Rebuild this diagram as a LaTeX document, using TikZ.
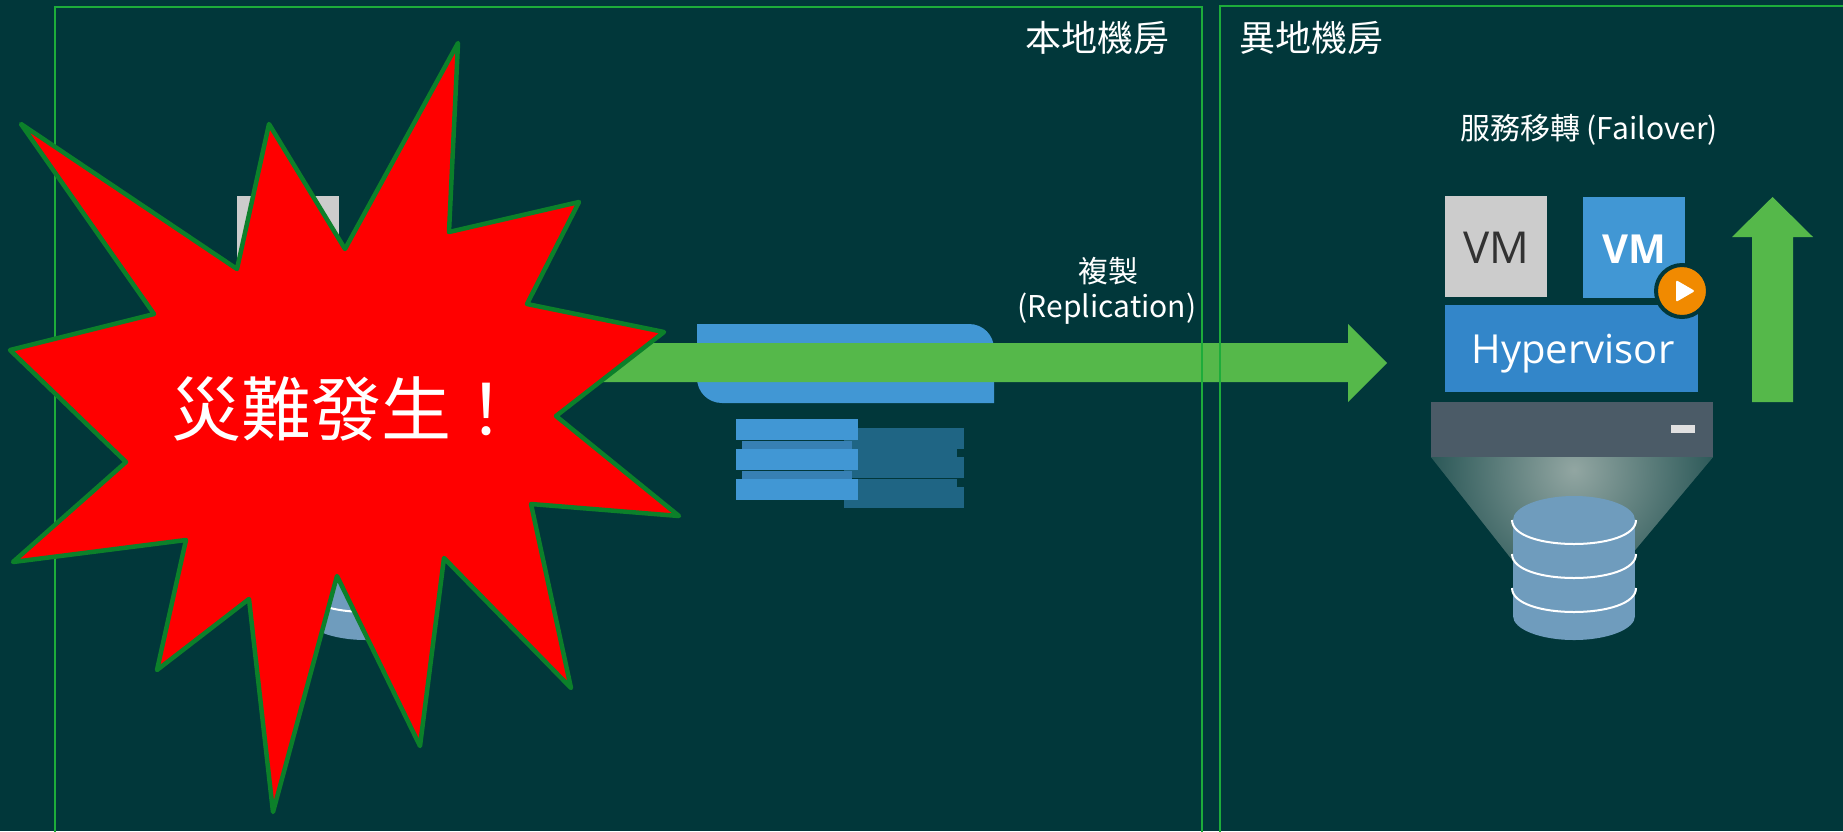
\documentclass[tikz,border=0pt]{standalone}
\usepackage{fontspec}
\newfontfamily\cjk{Noto Sans CJK TC}
\newfontfamily\segoe{Open Sans}
\usepackage{tikz}

\definecolor{bg}{RGB}{1,55,58}
\definecolor{framegreen}{RGB}{29,172,58}
\definecolor{arrowgreen}{RGB}{85,184,74}
\definecolor{staredge}{RGB}{12,128,42}
\definecolor{vmgrey}{RGB}{204,204,204}
\definecolor{vmtext}{RGB}{50,50,50}
\definecolor{vmblue}{RGB}{65,151,212}
\definecolor{hyperblue}{RGB}{51,134,201}
\definecolor{servergrey}{RGB}{75,91,103}
\definecolor{playorange}{RGB}{241,138,0}
\definecolor{dbblue}{RGB}{111,156,189}
\definecolor{stackdark}{RGB}{31,101,132}
\definecolor{conedark}{RGB}{38,84,84}
\definecolor{coneglow}{RGB}{146,166,162}

\tikzset{
	sitelabel/.style={text=white, inner sep=0pt, font=\cjk\fontsize{36}{40}\selectfont},
	smalllabel/.style={text=white, inner sep=0pt, font=\cjk\fontsize{30}{34}\selectfont},
}

% hypervisor, server, light cone and disk of one host
\newcommand{\hostbody}{
	\fill[hyperblue] (1445,305) rectangle (1698,392);
	\fill[servergrey] (1431,402) rectangle (1713,457);
	\fill[white!88!black] (1671,425) rectangle (1695,433);
	\fill[conedark] (1431,457) -- (1713,457) -- (1610,580) -- (1528,580) -- cycle;
	\begin{scope}
		\clip (1431,457) -- (1713,457) -- (1610,580) -- (1528,580) -- cycle;
		\shade[inner color=coneglow, outer color=conedark] (1574,470) circle (150);
	\end{scope}
	\fill[dbblue] (1513,520) rectangle (1635,616);
	\fill[dbblue] (1574,616) ellipse (61 and 24);
	\fill[dbblue] (1574,520) ellipse (61 and 24);
	\foreach \y in {520,554,588}
		\draw[white, line width=2pt] (1512,\y) .. controls (1512,\y+32) and (1636,\y+32) .. (1636,\y);
	\fill[vmgrey] (1445,196) rectangle (1547,297);
}

\begin{document}
\begin{tikzpicture}[x=1pt, y=-1pt]
	\fill[bg] (0,0) rectangle (1843,831);
	\useasboundingbox (0,0) rectangle (1843,831);
	\clip (0,0) rectangle (1843,831);
	%\draw [help lines, step=100] (0,0) grid (1843,831);

	% replication target in the middle
	\fill[vmblue] (697,324) -- (969,324) .. controls (983,324) and (994,335) .. (994,349) -- (994,403) -- (722,403) .. controls (708,403) and (697,392) .. (697,378) -- cycle;
	\foreach \y in {428,457,487}
		\fill[stackdark] (844,\y) rectangle (964,\y+21);
	\foreach \y in {449,479}
		\fill[stackdark] (844,\y) rectangle (957,\y+8);
	\foreach \y in {419,449,479}
		\fill[vmblue] (736,\y) rectangle (858,\y+21);
	\foreach \y in {441,471}
		\fill[vmblue!85!black] (742,\y) rectangle (852,\y+8);

	% local host, mostly behind the star
	\begin{scope}[xshift=-1208pt]
		\hostbody
	\end{scope}

	% remote host
	\hostbody
	\node[text=vmtext, inner sep=0pt, anchor=base, font=\segoe\fontsize{44}{48}\selectfont] (vmgrey) at (1496,263) {VM};
	\fill[vmblue] (1583,197) rectangle (1685,298);
	\node[text=white, inner sep=0pt, anchor=base, font=\segoe\bfseries\fontsize{40}{44}\selectfont] (vmblue) at (1634,263) {VM};
	\filldraw[fill=playorange, draw=bg, line width=4pt] (1682,291) circle (26);
	\fill[white, rounded corners=2pt] (1676,280) -- (1695,291) -- (1676,302) -- cycle;
	\node[text=white, inner sep=0pt, anchor=base, font=\segoe\fontsize{40}{44}\selectfont] (hyperlabel) at (1573,363) {Hypervisor};

	% arrows
	\fill[arrowgreen] (400,343) -- (1348,343) -- (1348,324) -- (1387,363) -- (1348,402) -- (1348,382) -- (400,382) -- cycle;
	\fill[arrowgreen] (1752,402) -- (1752,237) -- (1732,237) -- (1772.5,197) -- (1813,237) -- (1793,237) -- (1793,402) -- cycle;

	% sites
	\draw[framegreen, line width=1.6pt] (55,850) -- (55,7) -- (1202,7) -- (1202,850);
	\draw[framegreen, line width=1.6pt] (1220,850) -- (1220,6) -- (1860,6);
	\node[sitelabel, anchor=east] (localsite) at (1170,38) {本地機房};
	\node[sitelabel, anchor=west] (remotesite) at (1239,38) {異地機房};
	\node[smalllabel] (failover) at (1589,130) {服務移轉 (Failover)};
	\node[smalllabel] (copyzh) at (1108,271) {複製};
	\node[smalllabel] (copyen) at (1107,309) {(Replication)};

	% disaster
	\filldraw[fill=red, draw=staredge, line width=4.5pt, line join=round]
		(458,43) -- (449,232) -- (579,202) -- (527,304) -- (664,332) -- (556,416) -- (679,516) -- (531,504)
		-- (571,688) -- (444,558) -- (420,746) -- (337,576) -- (273,812) -- (249,599) -- (157,670) -- (186,540)
		-- (13,562) -- (126,462) -- (10,350) -- (154,314) -- (21,124) -- (237,269) -- (269,124) -- (345,249) -- cycle;
	\node[text=white, inner sep=0pt, font=\cjk\fontsize{70}{74}\selectfont] (alert) at (346,409) {災難發生！};
\end{tikzpicture}
\end{document}
